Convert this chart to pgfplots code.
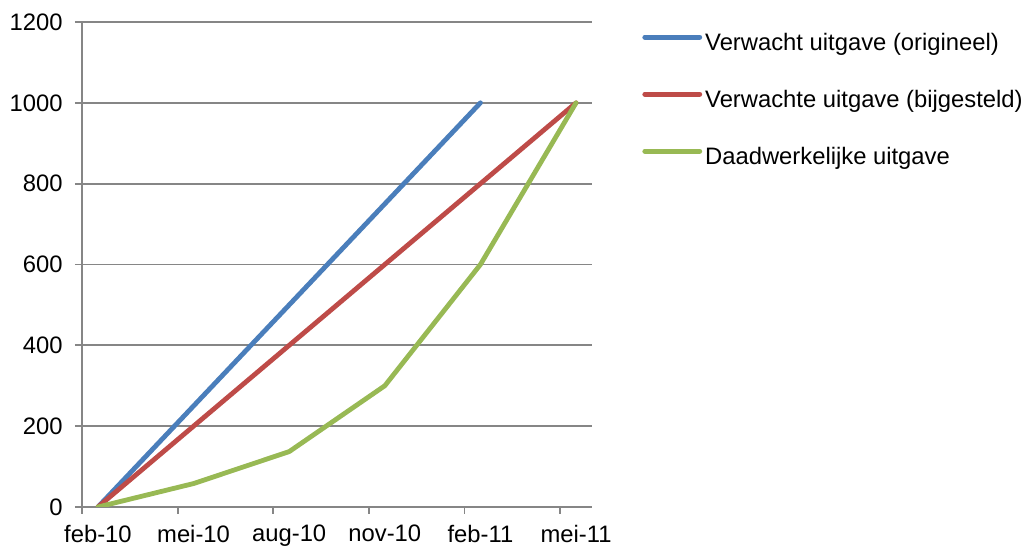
\documentclass[border=0pt]{standalone}
\usepackage{pgfplots}
\pgfplotsset{compat=1.18}
\usepackage{fontspec}
\setmainfont{Liberation Sans}
\definecolor{cblue}{HTML}{4A7EBB}
\definecolor{cred}{HTML}{BE4B48}
\definecolor{cgreen}{HTML}{98B954}
\definecolor{cgrid}{HTML}{868686}
\begin{document}
\fontsize{11.9}{14}\selectfont
\begin{tikzpicture}
\path[use as bounding box] (-41pt,-21.5pt) rectangle (474pt,253.5pt);
\begin{axis}[
  at={(0,0)}, anchor=south west,
  width=255pt, height=242.5pt, scale only axis,
  xmin=-0.5, xmax=15.5, ymin=0, ymax=1200,
  axis x line*=bottom, axis y line*=left,
  axis line style={-, draw=cgrid, line width=0.9pt},
  ytick={0,200,...,1200},
  ymajorgrids, grid style={draw=cgrid, line width=0.9pt},
  xtick={0,3,6,9,12,15},
  xticklabels={feb-10,mei-10,aug-10,nov-10,feb-11,mei-11},
  minor xtick={-0.5,2.5,5.5,8.5,11.5,14.5},
  major x tick style={draw=none},
  tick align=outside,
  major tick length=3.5pt, minor tick length=3.5pt,
  tick style={draw=cgrid, line width=0.9pt},
  ytick style={draw=cgrid, line width=0.9pt},
  minor x tick style={draw=cgrid, line width=0.9pt},
  /pgf/number format/.cd, 1000 sep={}, assume math mode=true, /pgfplots/.cd,
  ticklabel style={font=\fontsize{11.9}{14}\selectfont},
  yticklabel style={xshift=-2pt},
  xticklabel style={yshift=-1.5pt},
  legend cell align=left,
  legend style={at={(axis description cs:1.098,0.836)}, anchor=west,
    draw=none, fill=none, inner sep=0pt, row sep=17.5pt, column sep=1.5pt,
    nodes={inner sep=0pt, text height=8.5pt, text depth=2.5pt},
    font=\fontsize{11.9}{14}\selectfont},
  legend image code/.code={\draw[#1] (0pt,3.7pt) -- (27.5pt,3.7pt);},
  every axis plot/.append style={line width=2.4pt, line cap=round, line join=round},
]
\addplot[cblue] coordinates {(0,0) (3,250) (6,500) (9,750) (12,1000)};
\addlegendentry{Verwacht uitgave (origineel)}
\addplot[cred] coordinates {(0,0) (3,200) (6,400) (9,600) (12,800) (15,1000)};
\addlegendentry{Verwachte uitgave (bijgesteld)}
\addplot[cgreen] coordinates {(0,0) (3,58) (6,137) (9,300) (12,600) (15,1000)};
\addlegendentry{Daadwerkelijke uitgave}
\end{axis}
\end{tikzpicture}
\end{document}
